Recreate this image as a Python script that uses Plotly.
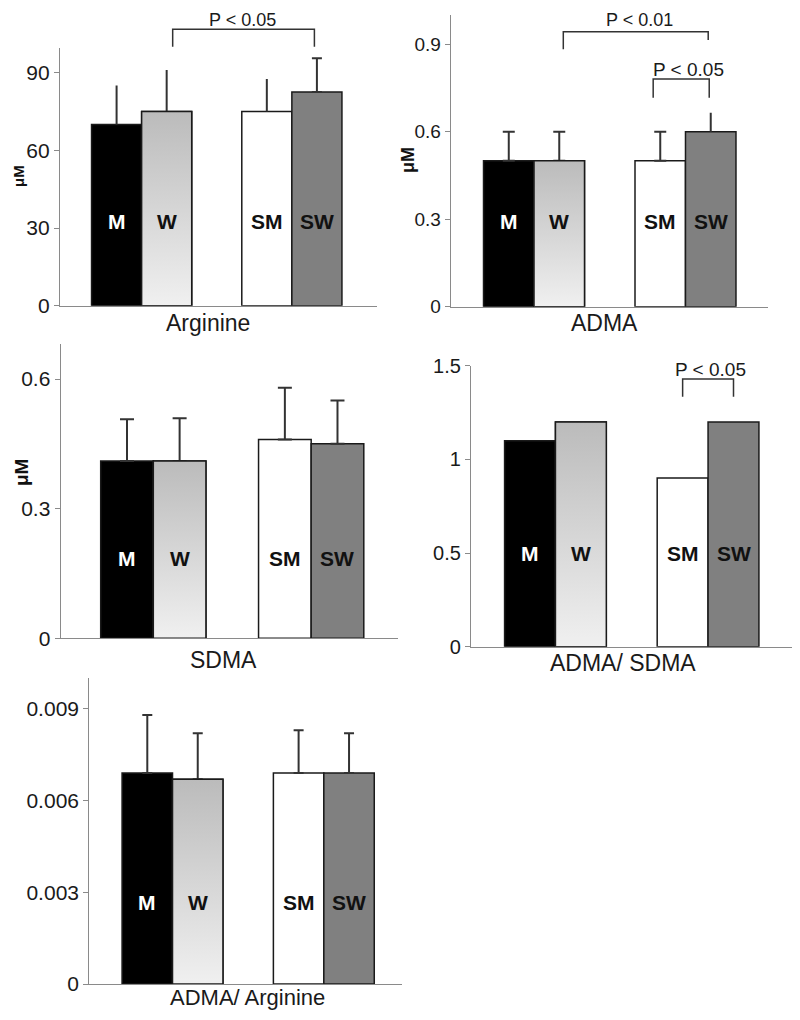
import plotly.graph_objects as go

# ---------------- data ----------------
groups = ["M", "W", "SM", "SW"]
positions = [0, 1, 3, 4]

arginine_vals = [70, 75, 75, 82.5]
arginine_err = [15, 16, 12.5, 13]

adma_vals = [0.5, 0.5, 0.5, 0.6]
adma_err = [0.1, 0.1, 0.1, 0.065]

sdma_vals = [0.41, 0.41, 0.46, 0.45]
sdma_err = [0.097, 0.099, 0.12, 0.10]

adma_sdma_vals = [1.1, 1.2, 0.9, 1.2]

adma_arg_vals = [0.0069, 0.0067, 0.0069, 0.0069]
adma_arg_err = [0.0019, 0.0015, 0.0014, 0.0013]

# ---------------- style ----------------
PAGE_W, PAGE_H = 800, 1020
BODY = 8  # default page margin around the plot div
W_PX, H_PX = PAGE_W - 2 * BODY, PAGE_H - 2 * BODY
FONT = "Liberation Sans, Arial, sans-serif"
OUTLINE = "#1a1a1a"
AXIS_COL = "#8a8a8a"
bar_colors = {"M": "#000000", "W": "#c8c8c8", "SM": "#ffffff", "SW": "#808080"}
label_colors = {"M": "#ffffff", "W": "#111111", "SM": "#111111", "SW": "#111111"}
W_GRADIENT = [[0, "#f0f0f0"], [1, "#bbbbbb"]]


def px(x):
    return (x - BODY) / W_PX


def py(y):
    return 1 - (y - BODY) / H_PX


panels = [
    dict(vals=arginine_vals, err=arginine_err, caps=[0, 0, 0, 5],
         xdom=(60, 377), ydom=(48, 305.7), xr=[-1.13, 5.2], yr=[0, 99.5],
         tickvals=[0, 30, 60, 90], ticktext=["0", "30", "60", "90"], tfs=21,
         label_y=32.4, title="Arginine", tpos=(208, 323), tfs_title=23,
         ylab=(19, 176, 15)),
    dict(vals=adma_vals, err=adma_err, caps=[6, 6, 6, 0],
         xdom=(450.7, 768.3), ydom=(15, 306.7), xr=[-1.15, 5.14], yr=[0, 1.0],
         tickvals=[0, 0.3, 0.6, 0.9], ticktext=["0", "0.3", "0.6", "0.9"], tfs=19,
         label_y=0.291, title="ADMA", tpos=(604, 323), tfs_title=23,
         ylab=(408, 160, 18)),
    dict(vals=sdma_vals, err=sdma_err, caps=[7, 7, 7, 7],
         xdom=(60.7, 398), ydom=(344, 638.3), xr=[-1.26, 5.15], yr=[0, 0.681],
         tickvals=[0, 0.3, 0.6], ticktext=["0", "0.3", "0.6"], tfs=21,
         label_y=0.185, title="SDMA", tpos=(224, 660), tfs_title=23,
         ylab=(21, 473, 19)),
    dict(vals=adma_sdma_vals, err=None, caps=[0, 0, 0, 0],
         xdom=(471, 798), ydom=(365.7, 646.7), xr=[-1.16, 5.15], yr=[0, 1.5],
         tickvals=[0, 0.5, 1, 1.5], ticktext=["0", "0.5", "1", "1.5"], tfs=20,
         label_y=0.495, title="ADMA/ SDMA", tpos=(623, 663), tfs_title=23,
         ylab=None),
    dict(vals=adma_arg_vals, err=adma_arg_err, caps=[5, 5, 5, 5],
         xdom=(89.3, 402), ydom=(678.3, 984), xr=[-1.15, 5.05], yr=[0, 0.01],
         tickvals=[0, 0.003, 0.006, 0.009], ticktext=["0", "0.003", "0.006", "0.009"], tfs=21,
         label_y=0.00267, title="ADMA/ Arginine", tpos=(247, 997), tfs_title=22,
         ylab=None),
]

# brackets: (panel index, x_left, x_right, top_px, left_bottom_px, right_bottom_px, text, text_px, size)
brackets = [
    (0, 1.12, 3.95, 29.3, 46.7, 46.7, "P < 0.05", (242.3, 20.5), 18),
    (1, 1.08, 3.95, 31.7, 49.3, 40.0, "P < 0.01", (639.3, 20.5), 18),
    (1, 2.86, 3.97, 79.0, 97.7, 97.7, "P < 0.05", (688.7, 70.0), 19),
    (3, 3.0, 4.0, 379.0, 396.7, 396.7, "P < 0.05", (710.7, 369.5), 19),
]

fig = go.Figure()
annotations = []
shapes = []
layout_axes = {}

for i, p in enumerate(panels):
    n = "" if i == 0 else str(i + 1)
    xa, ya = "x" + n, "y" + n
    for g, pos, v, cap, k in zip(groups, positions, p["vals"], p["caps"], range(4)):
        err = None
        if p["err"] is not None:
            err = dict(type="data", array=[p["err"][k]], arrayminus=[0], symmetric=False,
                       width=cap, thickness=2, color="#333333")
        fig.add_trace(go.Bar(
            x=[pos], y=[v], width=1, xaxis=xa, yaxis=ya,
            marker=dict(color=bar_colors[g], line=dict(color=OUTLINE, width=1.5)),
            error_y=err, name=g, showlegend=False,
        ))
        if g == "W":
            fig.add_trace(go.Scatter(
                x=[pos - 0.5, pos + 0.5, pos + 0.5, pos - 0.5, pos - 0.5],
                y=[0, 0, v, v, 0], xaxis=xa, yaxis=ya, mode="lines",
                fill="toself",
                fillgradient=dict(type="vertical", colorscale=W_GRADIENT, start=0, stop=v),
                line=dict(color=OUTLINE, width=1.5), hoverinfo="skip", showlegend=False,
            ))
        annotations.append(dict(
            x=pos, y=p["label_y"], xref=xa, yref=ya, text=g, showarrow=False,
            font=dict(family=FONT, size=21, color=label_colors[g], weight="bold"),
        ))
    ax_key = "xaxis" + n
    ay_key = "yaxis" + n
    layout_axes[ax_key] = dict(
        domain=[px(p["xdom"][0]), min(1.0, px(p["xdom"][1]))], range=p["xr"],
        anchor=ya, showgrid=False, zeroline=False, showticklabels=False, automargin=False,
        ticks="", showline=True, linecolor=AXIS_COL, linewidth=1.2, fixedrange=True,
    )
    layout_axes[ay_key] = dict(
        domain=[py(p["ydom"][1]), py(p["ydom"][0])], range=p["yr"],
        anchor=xa, showgrid=False, zeroline=False, automargin=False,
        tickvals=p["tickvals"], ticktext=p["ticktext"], ticks="outside", ticklen=5,
        tickcolor=AXIS_COL, tickwidth=1.2, showline=True, linecolor=AXIS_COL, linewidth=1.2,
        tickfont=dict(family=FONT, size=p["tfs"], color="#1a1a1a"), fixedrange=True,
    )
    annotations.append(dict(
        x=px(p["tpos"][0]), y=py(p["tpos"][1]), xref="paper", yref="paper",
        text=p["title"], showarrow=False, xanchor="center", yanchor="middle",
        font=dict(family=FONT, size=p["tfs_title"], color="#1a1a1a"),
    ))
    if p["ylab"] is not None:
        lx, ly, ls = p["ylab"]
        annotations.append(dict(
            x=px(lx), y=py(ly), xref="paper", yref="paper", text="μM", textangle=-90,
            showarrow=False, xanchor="center", yanchor="middle",
            font=dict(family=FONT, size=ls, color="#111111", weight="bold"),
        ))

for (pi, xl, xr_, top, lb, rb, txt, tp, fs) in brackets:
    n = "" if pi == 0 else str(pi + 1)
    xa = "x" + n
    path = (f"M {xl},{py(lb)} L {xl},{py(top)} L {xr_},{py(top)} L {xr_},{py(rb)}")
    shapes.append(dict(type="path", path=path, xref=xa, yref="paper",
                       line=dict(color="#333333", width=1.5)))
    annotations.append(dict(
        x=px(tp[0]), y=py(tp[1]), xref="paper", yref="paper", text=txt,
        showarrow=False, xanchor="center", yanchor="middle",
        font=dict(family=FONT, size=fs, color="#1a1a1a"),
    ))

fig.update_layout(
    template="none",
    width=W_PX, height=H_PX, margin=dict(l=0, r=0, t=0, b=0, pad=0, autoexpand=False),
    paper_bgcolor="white", plot_bgcolor="white", barmode="overlay",
    showlegend=False, annotations=annotations, shapes=shapes,
    font=dict(family=FONT), **layout_axes,
)

fig.write_html("out.html")
